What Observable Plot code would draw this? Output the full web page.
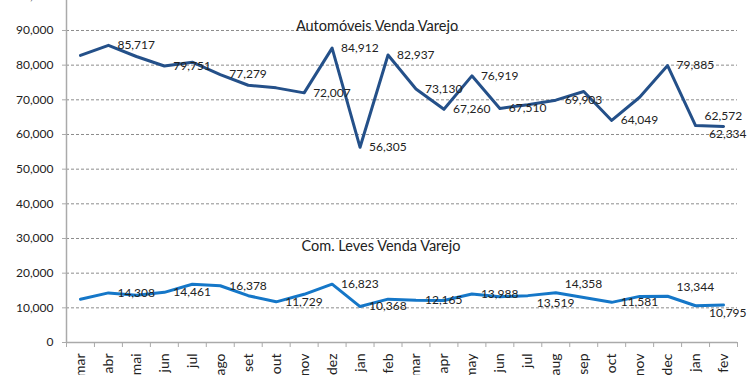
<!DOCTYPE html>
<html>
<head>
<meta charset="utf-8">
<script src="https://cdn.jsdelivr.net/npm/d3@7"></script>
<script src="https://cdn.jsdelivr.net/npm/@observablehq/plot@0.6"></script>
<style>
  html, body { margin: 0; padding: 0; background: #fff; }
  #chart { width: 750px; height: 375px; overflow: hidden; }
</style>
</head>
<body>
<div id="chart"></div>
<script>
const months = ["mar","abr","mai","jun","jul","ago","set","out","nov","dez","jan","feb",
                "mar","apr","may","jun","jul","aug","sep","oct","nov","dec","jan","fev"];
const autos = [82800, 85717, 82500, 79751, 80850, 77279, 74200, 73450, 72007, 84912, 56305, 82937,
               73130, 67260, 76919, 67510, 68600, 69903, 72400, 64049, 70750, 79885, 62572, 62334];
const comLeves = [12500, 14308, 13650, 14461, 16800, 16378, 13500, 11729, 13900, 16823, 10368, 12500,
                  12165, 12100, 13988, 13200, 13519, 14358, 13000, 11581, 13300, 13344, 10600, 10795];
const autosLabelIdx = [1, 3, 5, 8, 9, 10, 11, 12, 13, 14, 15, 17, 19, 21, 22, 23];
const comLabelIdx = [1, 3, 5, 7, 9, 10, 12, 14, 16, 17, 19, 21, 23];
const yTicks = [0, 10000, 20000, 30000, 40000, 50000, 60000, 70000, 80000, 90000, 100000];
const titles = ["Automóveis Venda Varejo", "Com. Leves Venda Varejo"];

const fmt = d3.format(",");
const idx = d3.range(months.length);
const last = months.length - 1;
const autoColor = "#245089";
const comColor = "#1577C8";

// Nudge labels of neighbouring points whose values are close, so they do not collide:
// the higher one goes up, the lower one goes down.
function labelOffsets(labelIdx, values) {
  const dy = new Map(labelIdx.map(i => [i, 0]));
  for (let k = 0; k < labelIdx.length - 1; k++) {
    const a = labelIdx[k], b = labelIdx[k + 1];
    const near = (b - a === 1) || (b === last && b - a <= 2);
    if (near && Math.abs(values[a] - values[b]) < 4000) {
      const hi = values[a] >= values[b] ? a : b, lo = hi === a ? b : a;
      dy.set(hi, dy.get(hi) - 9);
      dy.set(lo, dy.get(lo) + 8);
    }
  }
  return dy;
}

function labelMarks(labelIdx, values) {
  const dy = labelOffsets(labelIdx, values);
  const groups = d3.groups(labelIdx, i => `${i === last}|${dy.get(i)}`);
  return groups.map(([key, ids]) => {
    const isLast = ids[0] === last;
    return Plot.text(ids, {
      x: i => i, y: i => values[i], text: i => fmt(values[i]),
      textAnchor: isLast ? "end" : "start",
      dx: isLast ? 23 : 9,
      dy: dy.get(ids[0]),
      fontSize: 12, fill: "#222"
    });
  });
}

const chart = Plot.plot({
  width: 750,
  height: 375,
  marginTop: 0,
  marginLeft: 66,
  marginRight: 13,
  marginBottom: 33,
  style: { fontFamily: "Lato, 'Open Sans', sans-serif", fontSize: "12px", color: "#222", background: "#fff" },
  x: { type: "linear", domain: [-0.5, months.length - 0.5] },
  y: { domain: [0, 98650] },
  marks: [
    Plot.gridY(yTicks.filter(d => d > 0), { stroke: "#8c8c8c", strokeOpacity: 1, strokeDasharray: "3,2", strokeWidth: 1 }),
    Plot.axisY(yTicks, { tickFormat: fmt, tickSize: 4, tickPadding: 9, stroke: "#aaa", fill: "#222", fontSize: 12, label: null }),
    Plot.ruleX([-0.5], { stroke: "#aaa", strokeWidth: 1.5 }),
    Plot.ruleY([0], { stroke: "#aaa", strokeWidth: 1.5 }),
    Plot.axisX(d3.range(months.length + 1).map(i => i - 0.5), { tickFormat: () => "", tickSize: 5, stroke: "#aaa", label: null }),
    Plot.axisX(idx, { tickFormat: i => months[i], tickSize: 0, tickPadding: 11, tickRotate: -90, fontSize: 14, fill: "#222", label: null }),
    Plot.line(idx, { x: i => i, y: i => autos[i], stroke: autoColor, strokeWidth: 3 }),
    Plot.line(idx, { x: i => i, y: i => comLeves[i], stroke: comColor, strokeWidth: 3 }),
    ...labelMarks(autosLabelIdx, autos),
    ...labelMarks(comLabelIdx, comLeves),
    Plot.text([titles[0]], { frameAnchor: "top", dx: -25, dy: 20, fontSize: 14.5, fill: "#222" }),
    Plot.text([titles[1]], { frameAnchor: "bottom", dx: -21, dy: -92, fontSize: 14.5, fill: "#222" })
  ]
});
document.getElementById("chart").appendChild(chart);
</script>
</body>
</html>
